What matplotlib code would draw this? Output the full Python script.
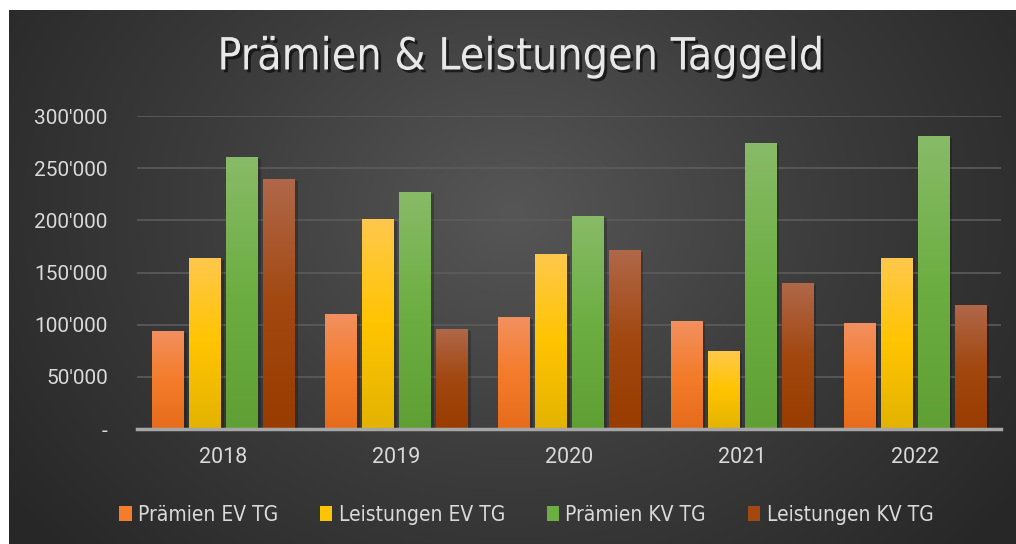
import numpy as np
import matplotlib.pyplot as plt
import matplotlib.patheffects as pe
from matplotlib.colors import LinearSegmentedColormap
from matplotlib.patches import Patch
from matplotlib.ticker import FuncFormatter

YEARS = ["2018", "2019", "2020", "2021", "2022"]
SERIES = ["Prämien EV TG", "Leistungen EV TG", "Prämien KV TG", "Leistungen KV TG"]
PRAEMIEN_EV = [94000, 110000, 107000, 103500, 101500]
LEISTUNGEN_EV = [164000, 201000, 168000, 75000, 164000]
PRAEMIEN_KV = [261000, 227000, 204000, 274000, 281000]
LEISTUNGEN_KV = [240000, 96000, 172000, 140000, 119000]
VALUES = [PRAEMIEN_EV, LEISTUNGEN_EV, PRAEMIEN_KV, LEISTUNGEN_KV]

# (top, middle, bottom) gradient colours per series
GRADS = [
    ("#f29060", "#f47c2a", "#e66c1c"),
    ("#ffc84c", "#ffc400", "#e3b300"),
    ("#88bb68", "#6dae42", "#5f9f34"),
    ("#b0684a", "#a24810", "#983c00"),
]
TEXT = "#d9d9d9"
NARROW = {"family": "DejaVu Sans", "stretch": "condensed"}

fig = plt.figure(figsize=(10.16, 5.44), dpi=100)
fig.patch.set_facecolor("white")

# dark radial background panel
bg = fig.add_axes([9 / 1016, 0, 1 - 9 / 1016, 1 - 10 / 544])
bg.set_axis_off()
yy, xx = np.mgrid[0:1:300j, 0:1:600j]
r = np.sqrt(((xx - 0.5) / 0.62) ** 2 + ((yy - 0.62) / 0.95) ** 2)
shade = np.clip(1 - r, 0, 1)
bgcmap = LinearSegmentedColormap.from_list("bg", ["#272727", "#3c3c3c", "#565656"])
bg.imshow(shade, cmap=bgcmap, aspect="auto", extent=[0, 1, 0, 1], origin="lower")
bg.set_xlim(0, 1)
bg.set_ylim(0, 1)

ax = fig.add_axes([137 / 1016, 1 - 429 / 544, (1001 - 137) / 1016, (429 - 116) / 544])
ax.set_facecolor("none")

x = np.arange(len(YEARS))
width = 0.18
step = 0.214
for i, (vals, grad) in enumerate(zip(VALUES, GRADS)):
    pos = x + (i - 1.5) * step
    bars = ax.bar(pos, vals, width=width, color=grad[1], zorder=3,
                  path_effects=[pe.SimplePatchShadow(offset=(2.5, -1.5), shadow_rgbFace="black", alpha=0.22),
                                pe.Normal()])
    cmap = LinearSegmentedColormap.from_list(f"g{i}", [grad[2], grad[1], grad[0]])
    for b in bars:
        grd = np.linspace(0, 1, 256).reshape(-1, 1)
        im = ax.imshow(grd, cmap=cmap, aspect="auto", origin="lower", zorder=4,
                       extent=[b.get_x(), b.get_x() + b.get_width(), 0, b.get_height()])
        im.set_clip_path(b)

ax.set_xlim(-0.5, len(YEARS) - 0.5)
ax.set_ylim(0, 300000)
ax.set_yticks(np.arange(0, 300001, 50000))
ax.yaxis.set_major_formatter(FuncFormatter(lambda v, p: "-" if v == 0 else f"{int(v):,}".replace(",", "'")))
ax.grid(True, axis="y", color="#5c5c5c", linewidth=1.2, zorder=0)
ax.set_xticks(x)
ax.set_xticklabels(YEARS)
for s in ["top", "right", "left"]:
    ax.spines[s].set_visible(False)
ax.spines["bottom"].set_color("#a6a6a6")
ax.spines["bottom"].set_linewidth(2.5)
ax.spines["bottom"].set_zorder(5)
ax.tick_params(axis="both", length=0, colors=TEXT)
ax.tick_params(axis="x", pad=13, labelsize=15.5)
ax.tick_params(axis="y", pad=21, labelsize=15)
for lbl in ax.get_yticklabels() + ax.get_xticklabels():
    lbl.set_family("Roboto")
    lbl.set_color(TEXT)

fig.text(0.513, 1 - 57 / 544, "Prämien & Leistungen Taggeld", ha="center", va="center",
         fontsize=32, color="#e8e8e8", **NARROW,
         path_effects=[pe.withSimplePatchShadow(offset=(2, -2), shadow_rgbFace="black", alpha=0.6)])

handles = [Patch(facecolor=g[1]) for g in GRADS]
leg = fig.legend(handles, SERIES, loc="center", bbox_to_anchor=(0.518, 1 - 515 / 544), ncol=4,
                 frameon=False, handlelength=0.6, handleheight=0.75, handletextpad=0.3,
                 columnspacing=2.0, prop={**NARROW, "size": 15})
for t in leg.get_texts():
    t.set_color(TEXT)

fig.savefig("out.png", dpi=100, facecolor=fig.get_facecolor())
